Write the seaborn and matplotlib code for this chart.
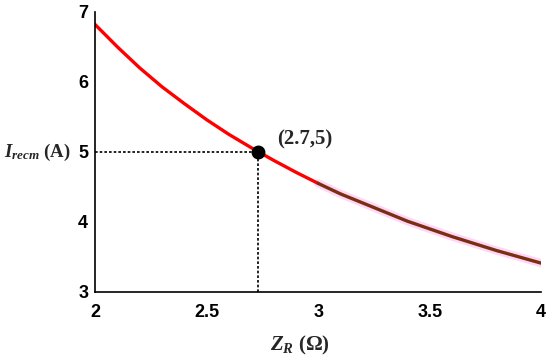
import matplotlib
matplotlib.use("Agg")
import matplotlib.pyplot as plt
import seaborn as sns
import pandas as pd

# values
z_vals = [2.0, 2.1, 2.2, 2.3, 2.4, 2.5, 2.6, 2.7, 2.8, 2.9, 3.0,
          3.1, 3.2, 3.3, 3.4, 3.5, 3.6, 3.7, 3.8, 3.9, 4.0]
i_vals = [6.82, 6.50, 6.20, 5.93, 5.69, 5.46, 5.25, 5.06, 4.88, 4.71, 4.55,
          4.40, 4.27, 4.14, 4.01, 3.90, 3.79, 3.69, 3.59, 3.50, 3.41]
op_z, op_i = 2.73, 5.0
x_ticks = [2, 2.5, 3, 3.5, 4]
y_ticks = [3, 4, 5, 6, 7]

sns.set_theme(style="white")
plt.rcParams["font.family"] = ["Liberation Sans", "DejaVu Sans"]
plt.rcParams["mathtext.fontset"] = "custom"
plt.rcParams["mathtext.it"] = "Liberation Serif:italic:bold"
plt.rcParams["mathtext.rm"] = "Liberation Serif:bold"

df = pd.DataFrame({"Z": z_vals, "I": i_vals})
first = df[df["Z"] <= 3.0]
second = df[df["Z"] >= 3.0]

fig = plt.figure(figsize=(5.5, 3.63), dpi=100)
ax = fig.add_axes([0.173, 0.196, 0.811, 0.771])

sns.lineplot(data=second, x="Z", y="I", ax=ax, color="#ffccf5", lw=6, alpha=0.8)
sns.lineplot(data=first, x="Z", y="I", ax=ax, color="#ff0000", lw=2.4)
sns.lineplot(data=second, x="Z", y="I", ax=ax, color="#7a3010", lw=2.4)

ax.plot([2, op_z], [op_i, op_i], ls=(0, (1.6, 1.2)), color="black", lw=1.2)
ax.plot([op_z, op_z], [3, op_i], ls=(0, (1.6, 1.2)), color="black", lw=1.2)
ax.plot([op_z], [op_i], "o", color="black", ms=9, zorder=5)
ax.text(2.815, 5.04, "(2.7,5)", fontsize=15, fontweight="bold",
        family="Liberation Serif", va="bottom", ha="left")

ax.set_xlim(2, 4)
ax.set_ylim(3, 7)
ax.set_xticks(x_ticks)
ax.set_xticklabels(["2", "2.5", "3", "3.5", "4"])
ax.set_yticks(y_ticks)
ax.tick_params(direction="in", length=5, width=1, colors="black",
               labelsize=13)
ax.tick_params(axis="x", pad=9)
ax.tick_params(axis="y", pad=5)
for lab in ax.get_xticklabels() + ax.get_yticklabels():
    lab.set_fontweight("bold")

for side in ["top", "right"]:
    ax.spines[side].set_visible(False)
for side in ["left", "bottom"]:
    ax.spines[side].set_color("black")
    ax.spines[side].set_linewidth(1.2)

ax.set_xlabel("$Z_R$ (Ω)", fontsize=15, family="Liberation Serif",
              fontweight="bold", labelpad=12)
ax.xaxis.set_label_coords(0.46, -0.15)
ax.set_ylabel("")
fig.text(0.008, 1 - 152 / 363, "$I_{recm}$ (A)", fontsize=13.5,
         family="Liberation Serif", fontweight="bold", va="center", ha="left")

fig.savefig("out.png", dpi=100)
